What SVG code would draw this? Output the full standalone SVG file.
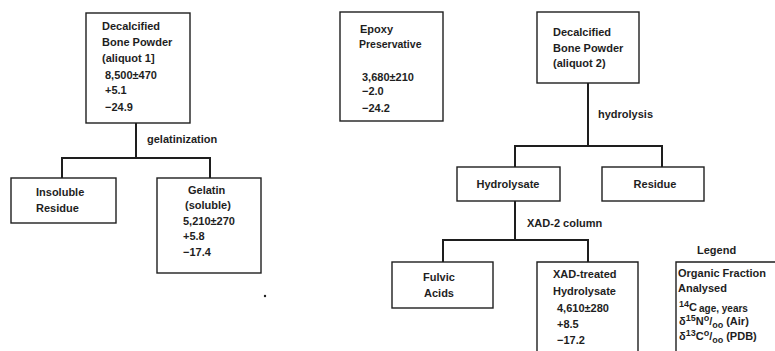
<svg xmlns="http://www.w3.org/2000/svg" width="775" height="351" viewBox="0 0 775 351">
<style>
.box{fill:none;stroke:#1e1e1e;stroke-width:1.4}
.t{font-family:"Liberation Sans",Arial,sans-serif;font-size:11px;font-weight:bold;fill:#1e1e1e}
.s{font-size:9px}
.c{stroke:#1e1e1e;stroke-width:2;fill:none}
</style>
<rect width="775" height="351" fill="#fff"/>
<g id="connectors">
<path class="c" d="M136,123V158M62,158H210M62,157V178M210,157V178"/>
<path class="c" d="M588,83V146M515,146H662M515,145V167M662,145V167"/>
<path class="c" d="M515,201V240M443,240H588M443,239V262M588,239V262"/>
</g>
<g id="labels">
<text class="t" x="147" y="143">gelatinization</text>
<text class="t" x="598" y="118">hydrolysis</text>
<text class="t" x="527" y="227">XAD-2 column</text>
</g>
<g id="bone1">
<rect class="box" x="86" y="13" width="104" height="110"/>
<text class="t" x="102" y="30">Decalcified</text>
<text class="t" x="102" y="46">Bone Powder</text>
<text class="t" x="102" y="62">(aliquot 1]</text>
<text class="t" x="105" y="79">8,500±470</text>
<text class="t" x="105" y="94">+5.1</text>
<text class="t" x="105" y="111">−24.9</text>
</g>
<g id="insoluble">
<rect class="box" x="11" y="178" width="105" height="45"/>
<text class="t" x="36" y="196">Insoluble</text>
<text class="t" x="36" y="212">Residue</text>
</g>
<g id="gelatin">
<rect class="box" x="157" y="178" width="104" height="95"/>
<text class="t" x="188" y="194">Gelatin</text>
<text class="t" x="185" y="209">(soluble)</text>
<text class="t" x="183" y="225">5,210±270</text>
<text class="t" x="183" y="240">+5.8</text>
<text class="t" x="183" y="256">−17.4</text>
</g>
<circle cx="265" cy="296" r="1.2" fill="#1e1e1e"/>
<g id="epoxy">
<rect class="box" x="340" y="12" width="103" height="109"/>
<text class="t" x="360" y="33">Epoxy</text>
<text class="t" x="359" y="48" style="font-size:10.5px">Preservative</text>
<text class="t" x="362" y="81">3,680±210</text>
<text class="t" x="362" y="95">−2.0</text>
<text class="t" x="362" y="112">−24.2</text>
</g>
<g id="bone2">
<rect class="box" x="537" y="12" width="102" height="71"/>
<text class="t" x="553" y="36">Decalcified</text>
<text class="t" x="553" y="52">Bone Powder</text>
<text class="t" x="553" y="67">(aliquot 2)</text>
</g>
<g id="hydrolysate">
<rect class="box" x="457" y="167" width="103" height="34"/>
<text class="t" x="508" y="188" text-anchor="middle">Hydrolysate</text>
</g>
<g id="residue">
<rect class="box" x="602" y="167" width="102" height="34"/>
<text class="t" x="655" y="188" text-anchor="middle">Residue</text>
</g>
<g id="fulvic">
<rect class="box" x="392" y="262" width="101" height="46"/>
<text class="t" x="439" y="281" text-anchor="middle">Fulvic</text>
<text class="t" x="439" y="297" text-anchor="middle">Acids</text>
</g>
<g id="xad">
<path class="box" d="M537,355V262H638V355"/>
<text class="t" x="553" y="278">XAD-treated</text>
<text class="t" x="553" y="295">Hydrolysate</text>
<text class="t" x="557" y="312">4,610±280</text>
<text class="t" x="557" y="328">+8.5</text>
<text class="t" x="557" y="344">−17.2</text>
</g>
<g id="legend">
<text class="t" x="697" y="254">Legend</text>
<path class="box" d="M676,355V262H780"/>
<text class="t" x="678" y="277">Organic Fraction</text>
<text class="t" x="678" y="292">Analysed</text>
<text class="t" x="679" y="311"><tspan class="s" dy="-4">14</tspan><tspan dy="4">C</tspan><tspan dx="2" dy="1" style="font-size:10px">age, years</tspan></text>
<text class="t" x="679" y="325">δ<tspan class="s" dy="-4">15</tspan><tspan dy="4">N</tspan><tspan class="s" dy="-4">o</tspan><tspan dy="4">/</tspan><tspan class="s" dy="3">oo</tspan><tspan dx="3" dy="-3">(Air)</tspan></text>
<text class="t" x="679" y="340">δ<tspan class="s" dy="-4">13</tspan><tspan dy="4">C</tspan><tspan class="s" dy="-4">o</tspan><tspan dy="4">/</tspan><tspan class="s" dy="3">oo</tspan><tspan dx="3" dy="-3">(PDB)</tspan></text>
</g>
</svg>
